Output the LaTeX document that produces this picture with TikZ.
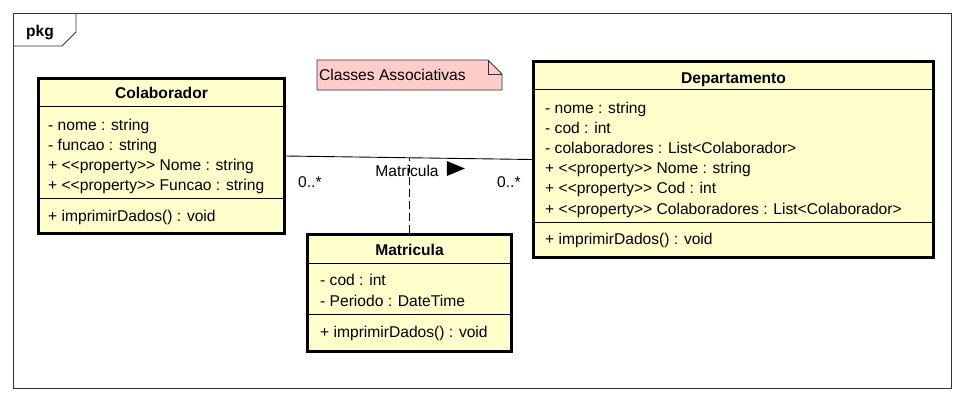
\documentclass[tikz,border=0pt]{standalone}
\usepackage{fontspec}
\setmainfont{Liberation Sans}
\usepackage{xcolor}
\usepackage{tikz}
\usetikzlibrary{calc,positioning}

\definecolor{umlfill}{HTML}{FFFFCC}
\definecolor{notefill}{HTML}{FFCCCC}
\newcommand\umlfont{\fontsize{15.6}{18}\selectfont}
\newcommand\stereo[1]{<{}<#1>{}>}

\tikzset{
  classbox/.style={draw, line width=3pt, fill=umlfill, anchor=north west, inner sep=0pt},
  member/.style={anchor=base west, inner sep=0pt, font=\umlfont},
  ctitle/.style={anchor=base, inner sep=0pt, font=\umlfont\bfseries},
  sepline/.style={line width=0.9pt},
  dashline/.style={line width=0.9pt, dash pattern=on 8pt off 4pt},
}

\begin{document}
\begin{tikzpicture}[x=1pt,y=-1pt]
	\useasboundingbox (0,0) rectangle (965,402);
	\draw[black!80,line width=0.8pt] (13,13) rectangle (951,388);
	\draw[black!80,line width=0.8pt] (13,46) -- (62,46) -- (76,32) -- (76,13);
	\node[ctitle] (pkg) at (40,36) {pkg};

	\filldraw[fill=notefill,draw=black!80,line width=0.8pt] (317,60) -- (488,60) -- (502,74) -- (502,90) -- (317,90) -- cycle;
	\draw[black!80,line width=0.8pt] (488,60) -- (488,74) -- (502,74);
	\node[member] (note) at (319,80) {Classes Associativas};

	\node[classbox, minimum width=246pt, minimum height=155pt] (colab) at (37,77) {};
	\node[classbox, minimum width=400pt, minimum height=196pt] (dept) at (532,60) {};
	\node[classbox, minimum width=204pt, minimum height=117pt] (matr) at (306,233) {};

	\draw[sepline] (colab.west |- 0,106) -- (colab.east |- 0,106);
	\draw[sepline] (colab.west |- 0,198) -- (colab.east |- 0,198);
	\draw[sepline] (dept.west |- 0,89) -- (dept.east |- 0,89);
	\draw[sepline] (dept.west |- 0,222) -- (dept.east |- 0,222);
	\draw[sepline] (matr.west |- 0,263) -- (matr.east |- 0,263);
	\draw[sepline] (matr.west |- 0,314) -- (matr.east |- 0,314);

	\node[ctitle] (colabname) at (colab.north |- 0,98) {Colaborador};
	\foreach \m [count=\i from 0] in {- nome : string, - funcao : string, + \stereo{property} Nome : string, + \stereo{property} Funcao : string}
		\node[member] at (48,130+20*\i) {\m};
	\node[member] (colabop) at (48,221) {+ imprimirDados() : void};

	\node[ctitle] (deptname) at (dept.north |- 0,83) {Departamento};
	\foreach \m [count=\i from 0] in {- nome : string, - cod : int, - colaboradores : List<Colaborador>, + \stereo{property} Nome : string, + \stereo{property} Cod : int, + \stereo{property} Colaboradores : List<Colaborador>}
		\node[member] at (545,113+20.2*\i) {\m};
	\node[member] (deptop) at (545,244) {+ imprimirDados() : void};

	\node[ctitle] (matrname) at (matr.north |- 0,255) {Matricula};
	\foreach \m [count=\i from 0] in {- cod : int, - Periodo : DateTime}
		\node[member] at (320,285+21*\i) {\m};
	\node[member] (matrop) at (320,337) {+ imprimirDados() : void};

	\draw[line width=0.9pt] (colab.east) -- (dept.west);
	\coordinate (assoc) at ($(colab.east)!0.5!(dept.west)$);
	\draw[dashline] (matr.north) -- (matr.north |- assoc);
	\node[member, anchor=base] (assoclbl) at (407,176) {Matricula};
	\fill ($(assoclbl.base east)+(8,-15)$) -- ++(18,7.5) -- ++(-18,7.5) -- cycle;
	\node[member] (multl) at (298,187) {0..*};
	\node[member] (multr) at (497,187) {0..*};
\end{tikzpicture}
\end{document}
